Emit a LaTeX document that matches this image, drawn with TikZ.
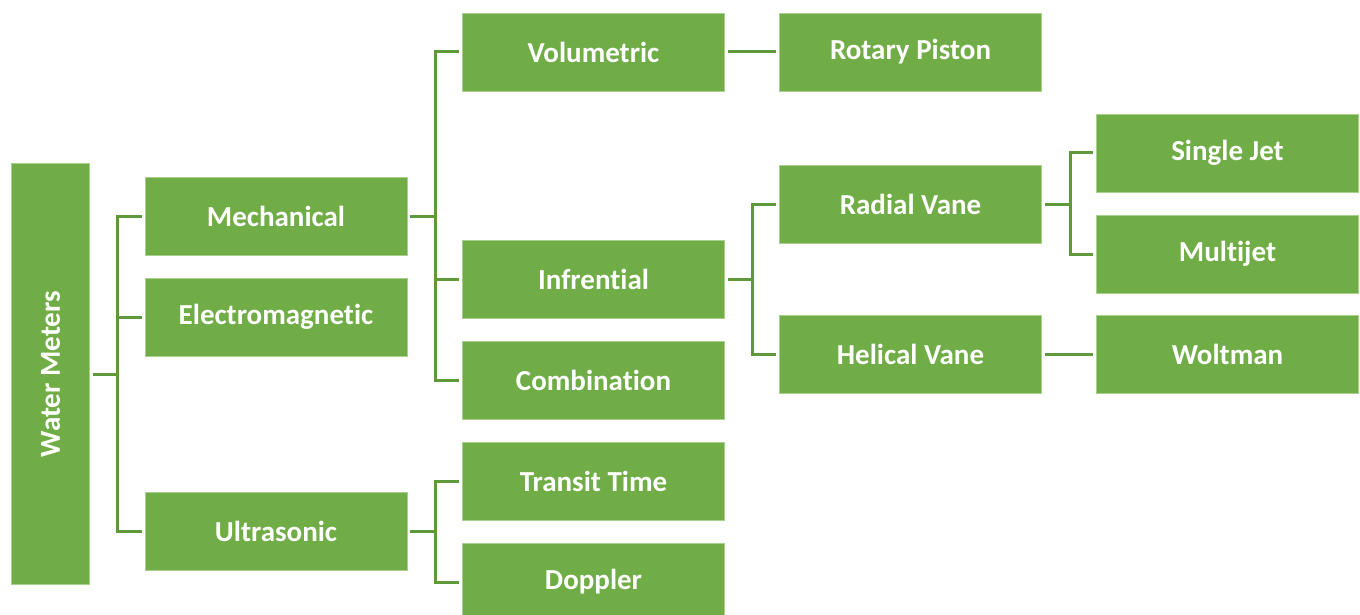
\documentclass[tikz,border=0pt]{standalone}
\usepackage{fontspec}
\setmainfont{Carlito}[Ligatures={NoCommon}]
\definecolor{boxgreen}{HTML}{70AD47}
\definecolor{boxedge}{HTML}{A9CF8E}
\definecolor{linegreen}{HTML}{5E9A3C}
\begin{document}
\begin{tikzpicture}[x=1pt,y=-1pt,
  lbl/.style={text=white, font=\fontsize{29}{32}\selectfont\bfseries},
  box/.style={draw=boxedge, line width=0.8pt, fill=boxgreen, lbl, inner sep=0pt,
    minimum width=262pt, minimum height=78pt},
  conn/.style={draw=linegreen, line width=3pt, shorten >=3pt, shorten <=3pt}]
\useasboundingbox (0,0) rectangle (1360,615);
\begin{scope}
\clip (0,0) rectangle (1360,615);
\node[box, minimum width=78pt, minimum height=421pt] (wm) at (50.5,374) {};
\node[rotate=90, lbl] (wmt) at (wm.center) {Water Meters};
\node[box] (mech) at (276,216) {Mechanical};
\node[box] (elec) at (276,317) {Electromagnetic};
\node[box] (ultra) at (276,531) {Ultrasonic};
\node[box] (vol) at (593.5,52) {Volumetric};
\node[box] (inf) at (593.5,279) {Infrential};
\node[box] (comb) at (593.5,380) {Combination};
\node[box] (tt) at (593.5,481) {Transit Time};
\node[box] (dop) at (593.5,582) {Doppler};
\node[box] (rot) at (910.5,52) {Rotary Piston};
\node[box] (rad) at (910.5,204) {Radial Vane};
\node[box] (hel) at (910.5,354) {Helical Vane};
\node[box] (sj) at (1227.5,153) {Single Jet};
\node[box] (mj) at (1227.5,254) {Multijet};
\node[box] (wolt) at (1227.5,354) {Woltman};
\end{scope}
\coordinate (b0) at (117,374);
\coordinate (b1) at (435,216);
\coordinate (b2) at (752,279);
\coordinate (b3) at (1070,204);
\coordinate (b4) at (435,531);
\draw[conn] (wm.east) -- (b0) |- (mech.west);
\draw[conn] (wm.east) -- (b0) |- (elec.west);
\draw[conn] (wm.east) -- (b0) |- (ultra.west);
\draw[conn] (mech.east) -- (b1) |- (vol.west);
\draw[conn] (mech.east) -- (b1) |- (inf.west);
\draw[conn] (mech.east) -- (b1) |- (comb.west);
\draw[conn] (ultra.east) -- (b4) |- (tt.west);
\draw[conn] (ultra.east) -- (b4) |- (dop.west);
\draw[conn] (vol.east) -- (rot.west);
\draw[conn] (inf.east) -- (b2) |- (rad.west);
\draw[conn] (inf.east) -- (b2) |- (hel.west);
\draw[conn] (rad.east) -- (b3) |- (sj.west);
\draw[conn] (rad.east) -- (b3) |- (mj.west);
\draw[conn] (hel.east) -- (wolt.west);
\end{tikzpicture}
\end{document}
